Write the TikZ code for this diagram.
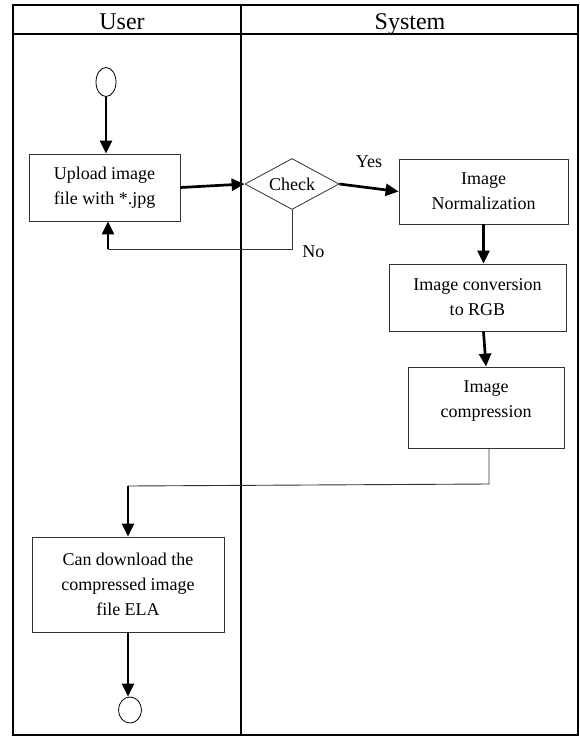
\documentclass[tikz,border=0pt]{standalone}
\usepackage{fontspec}
\setmainfont{Liberation Serif}
\usetikzlibrary{shapes.geometric, arrows.meta, positioning}

\begin{document}
\begin{tikzpicture}[x=1pt, y=-1pt]
    \tikzstyle{lane}=[draw=black, line width=1.6pt]
    \tikzstyle{head}=[inner sep=0pt, anchor=base, font=\fontsize{24}{28}\selectfont]
    \tikzstyle{fbox}=[rectangle, draw=black!80, line width=0.8pt, align=center,
                      inner sep=0pt, font=\fontsize{18}{25}\selectfont]
    \tikzstyle{dec}=[diamond, draw=black!80, line width=0.8pt, inner sep=0pt,
                     shape aspect=1.84, minimum width=94pt, minimum height=51pt,
                     font=\fontsize{18}{25}\selectfont]
    \tikzstyle{term}=[ellipse, draw=black, line width=0.8pt, inner sep=0pt]
    \tikzstyle{lbl}=[inner sep=0pt, font=\fontsize{18}{25}\selectfont]
    \tikzstyle{arr}=[-{Triangle[length=13pt, width=12pt]}, line width=2.7pt]
    \tikzstyle{flow}=[draw=black!80, line width=0.9pt]

    \useasboundingbox (0,0) rectangle (579,736);

    % swimlanes
    \draw[lane] (13,5) rectangle (578,735);
    \draw[lane] (13,34) -- (578,34);
    \draw[lane] (241,5) -- (241,735);
    \node[head] (hdu) at (122,29) {User};
    \node[head] (hds) at (410,29) {System};

    % steps
    \node[term, minimum width=20pt, minimum height=29pt] (start) at (106,82) {};
    \node[fbox, minimum width=151pt, minimum height=67pt] (upl) at (104.5,187.5) {Upload image\\file with *.jpg};
    \node[dec] (chk) at (292,184) {Check};
    \node[fbox, minimum width=169pt, minimum height=65pt] (nrm) at (483.5,191.5) {Image\\Normalization};
    \node[fbox, minimum width=177pt, minimum height=67pt] (cnv) at (477.5,297.5) {Image conversion\\to RGB};
    \node[fbox, minimum width=156pt, minimum height=81pt, text depth=16pt] (cmp) at (486,407.5) {Image\\compression};
    \node[fbox, minimum width=192pt, minimum height=95pt] (dwn) at (128,584.5) {Can download the\\compressed image\\file ELA};
    \node[term, minimum width=23pt, minimum height=26pt] (stop) at (130,710) {};

    \coordinate (nol) at (108,249);
    \coordinate (dnr) at (489,484);
    \coordinate (dnl) at (128,486);

    % connectors
    \draw[arr] (start) -- (start |- upl.north);
    \draw[arr] (upl.east) -- (chk.west);
    \draw[arr] (chk.east) -- node[lbl, above=19pt] (yes) {Yes} (nrm.west);
    \draw[flow] (chk.south) -- (chk.south |- nol)
        node[lbl, anchor=north west, xshift=10pt, yshift=4pt] (no) {No} -- (nol);
    \draw[arr] (nol) -- (nol |- upl.south);
    \draw[arr] (nrm.south) -- (nrm.south |- cnv.north);
    \draw[arr] (cnv.south -| nrm.south) -- (cmp.north);
    \draw[flow] ([xshift=3pt]cmp.south) -- (dnr) -- (dnl);
    \draw[arr] (dnl) -- (dwn.north);
    \draw[arr] (dwn.south) -- (dwn.south |- stop.north);
\end{tikzpicture}
\end{document}
